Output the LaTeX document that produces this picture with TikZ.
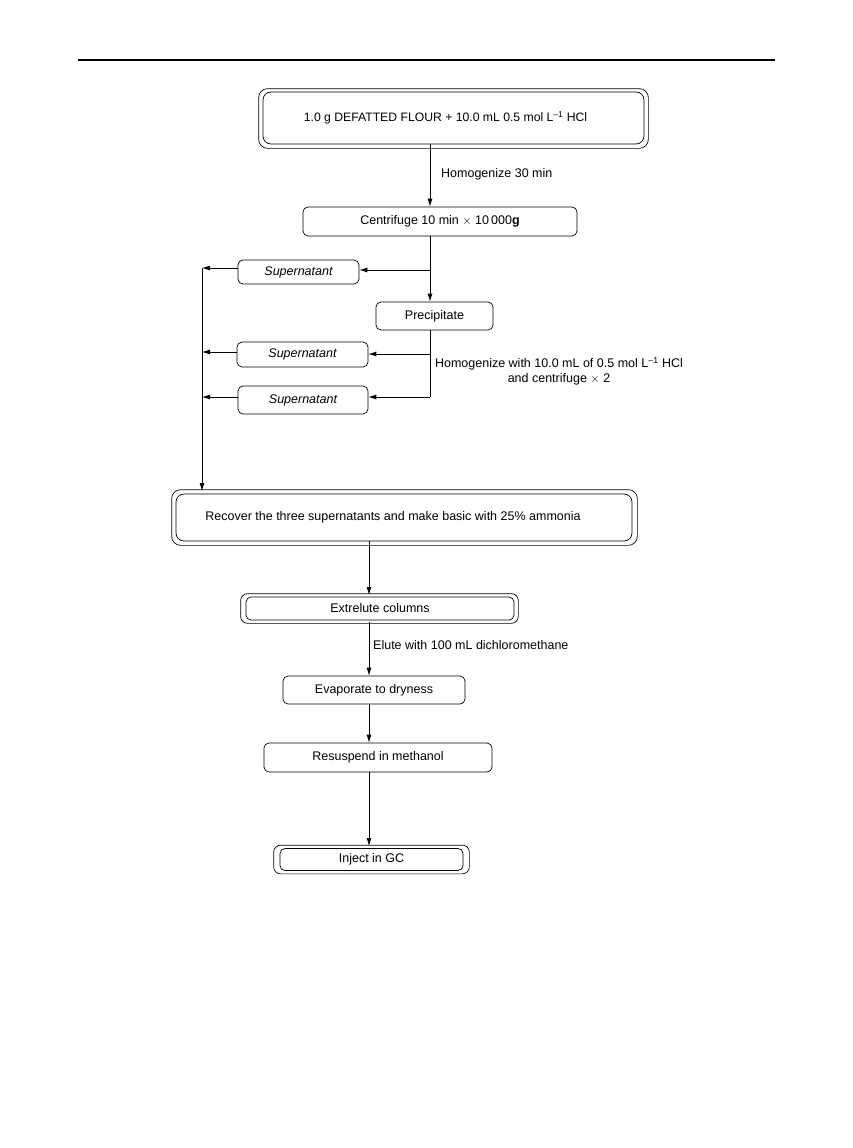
\documentclass[tikz,border=0pt]{standalone}
\usepackage{fontspec}
\setmainfont{Liberation Sans}
\usetikzlibrary{arrows.meta}
\begin{document}
\begin{tikzpicture}[x=1pt,y=-1pt,
  box/.style={draw, rounded corners=5pt, line width=0.7pt, inner sep=0pt, align=center, font=\fontsize{12.5}{14}\selectfont},
  ital/.style={font=\fontsize{12.5}{14}\selectfont\itshape},
  frame/.style={draw, rounded corners=7pt, line width=0.7pt},
  arr/.style={line width=0.8pt, -{Latex[length=8pt,width=5pt]}},
  ln/.style={line width=0.8pt},
  lab/.style={font=\fontsize{12.5}{15}\selectfont, inner sep=0pt, align=center}]
\useasboundingbox (0,0) rectangle (852,1148);
\draw[line width=1.5pt] (78,60) -- (775,60);

% nodes
\node[box, minimum width=381pt, minimum height=52pt, rounded corners=8pt, font=\fontsize{12.2}{14}\selectfont] (b1) at (453.5,118) {\hspace*{-16pt}1.0 g DEFATTED FLOUR + 10.0 mL 0.5 mol L\textsuperscript{–1} HCl};
\draw[frame, rounded corners=9pt] ([shift={(-4,-3)}]b1.north west) rectangle ([shift={(4,4)}]b1.south east);

\node[box, minimum width=274pt, minimum height=29pt] (cen) at (440,221.5) {Centrifuge 10 min $\times$ 10\,000\textbf{g}};
\node[box, ital, minimum width=121pt, minimum height=24pt] (s1) at (298.5,272) {Supernatant};
\node[box, minimum width=117pt, minimum height=28pt] (pre) at (434.5,316) {Precipitate};
\node[box, ital, minimum width=131pt, minimum height=25pt] (s2) at (302.5,354.5) {Supernatant};
\node[box, ital, minimum width=130pt, minimum height=28pt] (s3) at (303,400) {Supernatant};

\node[box, minimum width=456pt, minimum height=47pt, rounded corners=8pt] (rec) at (404,517.5) {\hspace*{-22pt}Recover the three supernatants and make basic with 25\% ammonia};
\draw[frame, rounded corners=9pt] ([shift={(-4,-4)}]rec.north west) rectangle ([shift={(5,4)}]rec.south east);

\node[box, minimum width=268pt, minimum height=23pt] (ext) at (380,608.5) {Extrelute columns};
\draw[frame] ([shift={(-5,-3)}]ext.north west) rectangle ([shift={(4,3)}]ext.south east);

\node[box, minimum width=182pt, minimum height=28pt] (eva) at (374,690) {Evaporate to dryness};
\node[box, minimum width=228pt, minimum height=29pt] (res) at (378,757.5) {Resuspend in methanol};

\node[box, minimum width=183pt, minimum height=22pt] (inj) at (371.5,859.5) {Inject in GC};
\draw[frame] ([shift={(-6,-3)}]inj.north west) rectangle ([shift={(6,3)}]inj.south east);

% coordinates
\coordinate (c1) at (430,270);
\coordinate (c2) at (430,354);
\coordinate (c3) at (430,397);
\coordinate (lt) at (202,268);
\coordinate (l2) at (202,352);
\coordinate (l3) at (202,397);
\coordinate (lb) at (202,491);

% connectors
\draw[arr] (b1.south -| 430,0) -- (cen.north -| 430,0);
\node[lab, anchor=west] (h1) at (441,174) {Homogenize 30 min};
\draw[ln] (cen.south -| 430,0) -- (c1);
\draw[arr] (c1) -- (pre.north -| c1);
\draw[arr] (c1) -- (s1.east |- c1);
\draw[ln] (pre.south -| c2) -- (c3);
\draw[arr] (c2) -- (s2.east |- c2);
\draw[arr] (c3) -- (s3.east |- c3);
\node[lab, anchor=north] (h2) at (559,357) {Homogenize with 10.0 mL of 0.5 mol L\textsuperscript{–1} HCl\\and centrifuge $\times$ 2};

\draw[arr] (s1.west |- lt) -- (lt);
\draw[arr] (s2.west |- l2) -- (l2);
\draw[arr] (s3.west |- l3) -- (l3);
\draw[arr] (lt) -- (lb);

\draw[arr] (rec.south -| 369,0) -- (369,595);
\draw[arr] (369,622) -- (eva.north -| 369,0);
\node[lab, anchor=west] (h3) at (373,645) {Elute with 100 mL dichloromethane};
\draw[arr] (eva.south -| 369,0) -- (res.north -| 369,0);
\draw[arr] (res.south -| 369,0) -- (369,846);
\end{tikzpicture}
\end{document}
